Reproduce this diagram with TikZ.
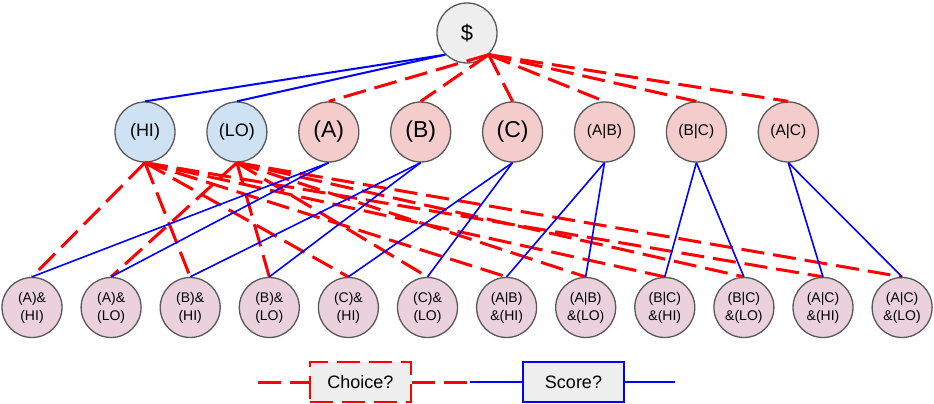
\documentclass[tikz,border=0pt]{standalone}
\usepackage{fontspec}
\setmainfont{Liberation Sans}
\usepackage{tikz}
\usetikzlibrary{shapes}
\definecolor{rootgray}{HTML}{EEEEEE}
\definecolor{featblue}{HTML}{CFE2F3}
\definecolor{optpink}{HTML}{F4CCCC}
\definecolor{combopink}{HTML}{EAD1DC}
\definecolor{rimgray}{HTML}{595959}

\begin{document}
\begin{tikzpicture}[x=1pt,y=-1pt]
\tikzstyle{ball}=[circle, minimum size = 60pt, inner sep=0pt, line width=1.3pt, draw=rimgray]
\tikzstyle{start}=[ball, fill=rootgray, font=\fontsize{22}{24}\selectfont]
\tikzstyle{feat}=[ball, fill=featblue, font=\fontsize{18}{20}\selectfont]
\tikzstyle{opt}=[ball, fill=optpink, font=\fontsize{23}{25}\selectfont]
\tikzstyle{optor}=[ball, fill=optpink, font=\fontsize{15.5}{17}\selectfont]
\tikzstyle{combo}=[ball, fill=combopink, align=center, font=\fontsize{14}{18}\selectfont]
\tikzstyle{keybox}=[rectangle, minimum width=101pt, minimum height=40pt, fill=rootgray, font=\fontsize{18}{20}\selectfont]
\tikzstyle{choice}=[red, line width=3pt, dash pattern=on 23pt off 9pt]
\tikzstyle{score}=[blue, line width=1.6pt]
\useasboundingbox (0,0) rectangle (934,404);

\node[start] (root) at (467,33) {\$};

\node[feat] (hi) at (145,132) {(HI)};
\node[feat] (lo) at (236.9,132) {(LO)};
\node[opt] (a) at (328.8,132) {(A)};
\node[opt] (b) at (420.7,132) {(B)};
\node[opt] (c) at (512.6,132) {(C)};
\node[optor] (ab) at (604.5,132) {(A|B)};
\node[optor] (bc) at (696.4,132) {(B|C)};
\node[optor] (ac) at (788.3,132) {(A|C)};

\node[combo] (a_hi) at (32,307.5) {(A)\&\\(HI)};
\node[combo] (a_lo) at (111.1,307.5) {(A)\&\\(LO)};
\node[combo] (b_hi) at (190.2,307.5) {(B)\&\\(HI)};
\node[combo] (b_lo) at (269.3,307.5) {(B)\&\\(LO)};
\node[combo] (c_hi) at (348.4,307.5) {(C)\&\\(HI)};
\node[combo] (c_lo) at (427.5,307.5) {(C)\&\\(LO)};
\node[combo] (ab_hi) at (506.6,307.5) {(A|B)\\\&(HI)};
\node[combo] (ab_lo) at (585.7,307.5) {(A|B)\\\&(LO)};
\node[combo] (bc_hi) at (664.8,307.5) {(B|C)\\\&(HI)};
\node[combo] (bc_lo) at (743.9,307.5) {(B|C)\\\&(LO)};
\node[combo] (ac_hi) at (823,307.5) {(A|C)\\\&(HI)};
\node[combo] (ac_lo) at (902.1,307.5) {(A|C)\\\&(LO)};

\path
	(root.south west) edge[score, line width=2pt] (hi.north)
	(root.south west) edge[score, line width=2pt] (lo.north)
	(root.south east) edge[choice] (a.north)
	(root.south east) edge[choice] (b.north)
	(root.south east) edge[choice] (c.north)
	(root.south east) edge[choice] (ab.north)
	(root.south east) edge[choice] (bc.north)
	(root.south east) edge[choice] (ac.north);

\path
	(hi.south) edge[choice] (a_hi.north)
	(hi.south) edge[choice] (b_hi.north)
	(hi.south) edge[choice] (c_hi.north)
	(hi.south) edge[choice] (ab_hi.north)
	(hi.south) edge[choice] (bc_hi.north)
	(hi.south) edge[choice] (ac_hi.north)
	(lo.south) edge[choice] (a_lo.north)
	(lo.south) edge[choice] (b_lo.north)
	(lo.south) edge[choice] (c_lo.north)
	(lo.south) edge[choice] (ab_lo.north)
	(lo.south) edge[choice] (bc_lo.north)
	(lo.south) edge[choice] (ac_lo.north);

\path
	(a.south) edge[score] (a_hi.north)
	(a.south) edge[score] (a_lo.north)
	(b.south) edge[score] (b_hi.north)
	(b.south) edge[score] (b_lo.north)
	(c.south) edge[score] (c_hi.north)
	(c.south) edge[score] (c_lo.north)
	(ab.south) edge[score] (ab_hi.north)
	(ab.south) edge[score] (ab_lo.north)
	(bc.south) edge[score] (bc_hi.north)
	(bc.south) edge[score] (bc_lo.north)
	(ac.south) edge[score] (ac_hi.north)
	(ac.south) edge[score] (ac_lo.north);

% legend
\coordinate (lg_l) at (258,382);
\coordinate (lg_m) at (470,382);
\coordinate (lg_r) at (675,382);
\node[keybox, draw=red, line width=2.6pt, dash pattern=on 23pt off 9pt] (choicebox) at (360.5,382) {Choice?};
\node[keybox, draw=blue, line width=1.6pt] (scorebox) at (573.5,382) {Score?};
\path
	(lg_l) edge[choice] (choicebox)
	(choicebox) edge[choice] (lg_m)
	(lg_m) edge[score] (scorebox)
	(scorebox) edge[score] (lg_r);
\end{tikzpicture}
\end{document}
